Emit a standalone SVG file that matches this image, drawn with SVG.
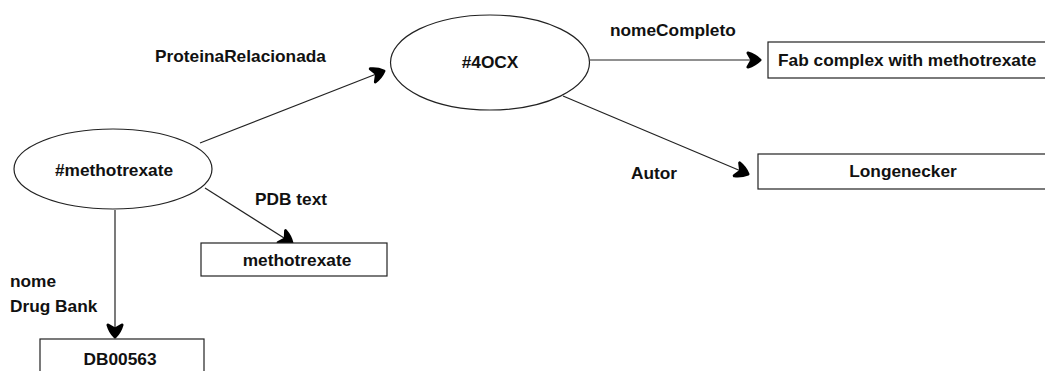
<svg xmlns="http://www.w3.org/2000/svg" width="1045" height="371" viewBox="0 0 1045 371">
  <style>
    text { font-family: "Liberation Sans", Arial, sans-serif; font-size: 17.3px; font-weight: bold; fill: #111; }
    .mid { text-anchor: middle; }
    .shape { fill: #fff; stroke: #222; stroke-width: 1.2; }
    .edge { fill: none; stroke: #222; stroke-width: 1.2; marker-end: url(#head); }
  </style>
  <defs>
    <!-- heavy rounded arrowhead used by every connector -->
    <marker id="head" markerUnits="userSpaceOnUse" viewBox="-16 -11 18 22" markerWidth="18" markerHeight="22" refX="0" refY="0" orient="auto">
      <path d="M0,0 Q-5,-5 -12,-7 L-8,0 L-12,7 Q-5,5 0,0 Z" fill="#000" stroke="#000" stroke-width="3" stroke-linejoin="round"/>
    </marker>
  </defs>

  <rect width="1045" height="371" fill="#fff"/>

  <!-- connectors and their labels -->
  <g id="connectors">
    <path class="edge" d="M200,143 L384,71"/>
    <path class="edge" d="M205,188 L292,243"/>
    <path class="edge" d="M115,210 L115,337"/>
    <path class="edge" d="M590,60 L760,60"/>
    <path class="edge" d="M563,96 L748,174"/>
    <text x="155" y="62">ProteinaRelacionada</text>
    <text x="610" y="36">nomeCompleto</text>
    <text x="631" y="179">Autor</text>
    <text x="255" y="205">PDB text</text>
    <text x="10" y="287">nome</text>
    <text x="10" y="312">Drug Bank</text>
  </g>

  <g id="node-methotrexate">
    <ellipse class="shape" cx="113" cy="169" rx="99" ry="40"/>
    <text class="mid" x="114" y="176">#methotrexate</text>
  </g>

  <g id="node-4ocx">
    <ellipse class="shape" cx="490" cy="62.5" rx="99.5" ry="47.5"/>
    <text class="mid" x="490" y="68">#4OCX</text>
  </g>

  <g id="node-fab">
    <rect class="shape" x="768" y="42" width="290" height="36"/>
    <text x="778" y="66">Fab complex with methotrexate</text>
  </g>

  <g id="node-longenecker">
    <rect class="shape" x="758" y="154" width="300" height="35"/>
    <text class="mid" x="903" y="177">Longenecker</text>
  </g>

  <g id="node-pdb-methotrexate">
    <rect class="shape" x="201" y="243" width="186" height="33"/>
    <text class="mid" x="297" y="266">methotrexate</text>
  </g>

  <g id="node-db00563">
    <rect class="shape" x="40" y="339" width="164" height="40"/>
    <text class="mid" x="120" y="365">DB00563</text>
  </g>
</svg>
